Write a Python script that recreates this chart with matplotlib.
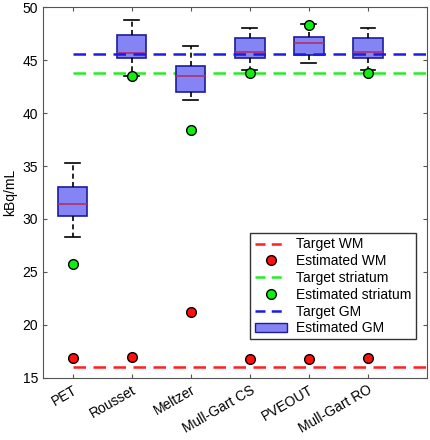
#!/usr/bin/env python3

import matplotlib
matplotlib.use('Agg')
import matplotlib.pyplot as plt
from matplotlib.patches import Patch
from matplotlib.lines import Line2D

plt.rcParams['font.family'] = ['Liberation Sans', 'DejaVu Sans']

# Methods on the x axis
methods = ['PET', 'Rousset', 'Meltzer', 'Mull-Gart CS', 'PVEOUT', 'Mull-Gart RO']

# Estimated GM box statistics
gm_whislo = [28.3, 43.5, 41.2, 44.1, 44.7, 44.1]
gm_q1 = [30.3, 45.2, 42.0, 45.2, 45.5, 45.2]
gm_med = [31.4, 45.7, 43.5, 45.75, 46.6, 45.75]
gm_q3 = [33.0, 47.4, 44.4, 47.1, 47.2, 47.1]
gm_whishi = [35.3, 48.8, 46.3, 48.05, 48.4, 48.05]

# Estimated WM and striatum values
est_wm = [16.86, 16.95, 21.2, 16.82, 16.82, 16.9]
est_striatum = [25.8, 43.5, 38.4, 43.8, 48.3, 43.75]

# Target values
target_wm = 16.0
target_striatum = 43.8
target_gm = 45.6

x = list(range(1, len(methods) + 1))

fig = plt.figure(figsize=(4.3, 4.4), dpi=100)
ax = fig.add_axes([0.1, 0.141, 0.893, 0.843])

# Target lines
ax.plot([1, 7], [target_wm] * 2, ls=(0, (5, 3)), color='#ff2020', lw=1.8, zorder=2)
ax.plot([1, 7], [target_striatum] * 2, ls=(0, (5, 3)), color='#22ee22', lw=1.8, zorder=2)
ax.plot([1, 7], [target_gm] * 2, ls=(0, (5, 3)), color='#1a1aee', lw=1.8, zorder=4)

# Boxes
stats = []
for i in range(len(methods)):
    stats.append({'whislo': gm_whislo[i], 'q1': gm_q1[i], 'med': gm_med[i],
                  'q3': gm_q3[i], 'whishi': gm_whishi[i], 'fliers': []})
ax.bxp(stats, positions=x, widths=0.5, patch_artist=True, showfliers=False,
       boxprops=dict(facecolor='#8484f4', edgecolor='#1c1c9c', lw=1.2),
       medianprops=dict(color='#b0306c', lw=1.2),
       whiskerprops=dict(color='black', ls=(0, (3, 2)), lw=1.2),
       capprops=dict(color='black', lw=1.2), capwidths=0.25,
       manage_ticks=False, zorder=3)

# Points
ax.plot(x, est_wm, 'o', ms=7, mfc='#ff1010', mec='black', mew=1.0, zorder=5)
ax.plot(x, est_striatum, 'o', ms=7, mfc='#10ee10', mec='black', mew=1.0, zorder=5)

ax.set_xlim(0.5, 7)
ax.set_ylim(15, 50)
ax.set_yticks([15, 20, 25, 30, 35, 40, 45, 50])
ax.set_xticks(x)
ax.set_xticklabels(methods, rotation=30, ha='right', rotation_mode='anchor')
ax.tick_params(direction='in', top=True, right=True, labelsize=10, length=3,
               color='#555555')
ax.set_ylabel('kBq/mL', fontsize=10, labelpad=4)
for s in ax.spines.values():
    s.set_color('#555555')

handles = [
    Line2D([], [], ls=(0, (4, 2.5)), color='#ff2020', lw=1.8),
    Line2D([], [], ls='', marker='o', ms=7, mfc='#ff1010', mec='black'),
    Line2D([], [], ls=(0, (4, 2.5)), color='#22ee22', lw=1.8),
    Line2D([], [], ls='', marker='o', ms=7, mfc='#10ee10', mec='black'),
    Line2D([], [], ls=(0, (4, 2.5)), color='#1a1aee', lw=1.8),
    Patch(facecolor='#8484f4', edgecolor='#1c1c9c'),
]
labels = ['Target WM', 'Estimated WM', 'Target striatum', 'Estimated striatum',
          'Target GM', 'Estimated GM']
leg = ax.legend(handles, labels, loc='lower right', bbox_to_anchor=(0.989, 0.085),
                fontsize=10, frameon=True, fancybox=False, framealpha=1,
                edgecolor='#333333', borderpad=0.3, labelspacing=0.2,
                handlelength=2.3, handletextpad=0.7)
leg.get_frame().set_linewidth(1.0)

fig.savefig('out.png', dpi=100)
